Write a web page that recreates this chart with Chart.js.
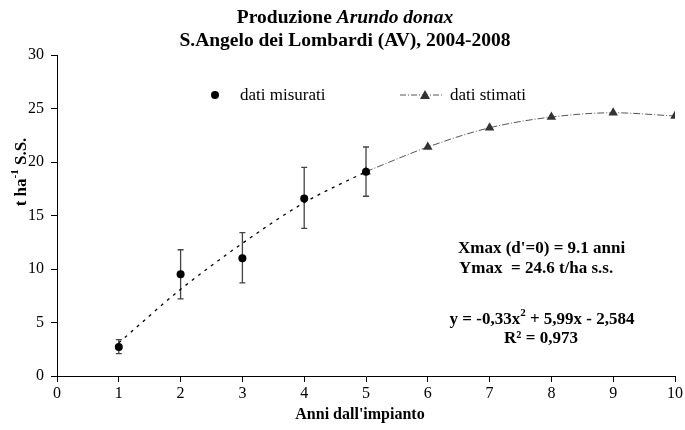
<!DOCTYPE html>
<html>
<head>
<meta charset="utf-8">
<script src="https://cdn.jsdelivr.net/npm/chart.js@4/dist/chart.umd.min.js"></script>
<style>
  html, body { margin: 0; padding: 0; background: #fff; }
  #wrap { width: 685px; height: 430px; position: relative; }
</style>
</head>
<body>
<div id="wrap"><canvas id="c" width="685" height="430"></canvas></div>
<script>
// ---- data ----
const xMeasured = [1, 2, 3, 4, 5];
const yMeasured = [2.7, 9.5, 11.0, 16.6, 19.1];
const errLow    = [2.1, 7.2, 8.7, 13.8, 16.8];
const errHigh   = [3.4, 11.8, 13.4, 19.5, 21.4];
const xTrend    = [1, 2, 3, 4, 5];
const yTrend    = [3.1, 8.1, 12.4, 16.2, 19.1];
const xEstimated = [5, 6, 7, 8, 9, 10];
const yEstimated = [19.1, 21.4, 23.2, 24.2, 24.6, 24.3];
const titleLine1a = "Produzione ";
const titleLine1b = "Arundo donax";
const titleLine2 = "S.Angelo dei Lombardi (AV), 2004-2008";
const legendLabels = ["dati misurati", "dati stimati"];
const xAxisTitle = "Anni dall'impianto";
const annotations = ["Xmax (d'=0) = 9.1 anni", "Ymax  = 24.6 t/ha s.s."];
const eqText = ["y = -0,33x", "2", " + 5,99x - 2,584"];
const r2Text = "R² = 0,973";

const SERIF = '"Liberation Serif", "Times New Roman", serif';

const toPts = (xs, ys) => xs.map((x, i) => ({ x: x, y: ys[i] }));

const extras = {
  id: 'extras',
  beforeDatasetsDraw(chart) {
    const ctx = chart.ctx, xs = chart.scales.x, ys = chart.scales.y;
    ctx.save();
    ctx.strokeStyle = '#444';
    ctx.lineWidth = 1.3;
    xMeasured.forEach((x, i) => {
      const px = xs.getPixelForValue(x);
      const top = ys.getPixelForValue(errHigh[i]);
      const bot = ys.getPixelForValue(errLow[i]);
      ctx.beginPath();
      ctx.moveTo(px, top); ctx.lineTo(px, bot);
      ctx.moveTo(px - 3, top); ctx.lineTo(px + 3, top);
      ctx.moveTo(px - 3, bot); ctx.lineTo(px + 3, bot);
      ctx.stroke();
    });
    ctx.restore();
  },
  afterDraw(chart) {
    const ctx = chart.ctx;
    ctx.save();
    ctx.fillStyle = '#000';
    ctx.textBaseline = 'middle';
    // title
    const cx = 345;
    const TF = 19.5;
    ctx.font = 'bold ' + TF + 'px ' + SERIF;
    const wa = ctx.measureText(titleLine1a).width;
    ctx.font = 'italic bold ' + TF + 'px ' + SERIF;
    const wb = ctx.measureText(titleLine1b).width;
    let sx = cx - (wa + wb) / 2;
    ctx.textAlign = 'left';
    ctx.font = 'bold ' + TF + 'px ' + SERIF;
    ctx.fillText(titleLine1a, sx, 18);
    ctx.font = 'italic bold ' + TF + 'px ' + SERIF;
    ctx.fillText(titleLine1b, sx + wa, 18);
    ctx.font = 'bold ' + TF + 'px ' + SERIF;
    ctx.textAlign = 'center';
    ctx.fillText(titleLine2, cx, 41);

    // legend
    const ly = 95;
    ctx.beginPath();
    ctx.arc(215, ly, 4, 0, Math.PI * 2);
    ctx.fill();
    ctx.font = '17px ' + SERIF;
    ctx.textAlign = 'left';
    ctx.fillText(legendLabels[0], 240, ly + 1);
    ctx.strokeStyle = '#555';
    ctx.lineWidth = 1;
    ctx.setLineDash([6, 2, 1, 2]);
    ctx.beginPath();
    ctx.moveTo(400, ly); ctx.lineTo(444, ly);
    ctx.stroke();
    ctx.setLineDash([]);
    ctx.fillStyle = '#333';
    ctx.beginPath();
    ctx.moveTo(425, ly - 5); ctx.lineTo(430, ly + 4); ctx.lineTo(420, ly + 4);
    ctx.closePath(); ctx.fill();
    ctx.fillStyle = '#000';
    ctx.fillText(legendLabels[1], 450, ly + 1);

    // annotations
    const AF = 17;
    ctx.font = 'bold ' + AF + 'px ' + SERIF;
    ctx.textAlign = 'left';
    ctx.fillText(annotations[0], 458, 249);
    ctx.fillText(annotations[1], 459, 269);
    // equation with superscript
    const w1 = ctx.measureText(eqText[0]).width;
    const w3 = ctx.measureText(eqText[2]).width;
    ctx.font = 'bold 11px ' + SERIF;
    const w2 = ctx.measureText(eqText[1]).width;
    let ex = 542 - (w1 + w2 + w3) / 2;
    ctx.font = 'bold ' + AF + 'px ' + SERIF;
    ctx.fillText(eqText[0], ex, 320);
    ctx.font = 'bold 11px ' + SERIF;
    ctx.fillText(eqText[1], ex + w1, 313);
    ctx.font = 'bold ' + AF + 'px ' + SERIF;
    ctx.fillText(eqText[2], ex + w1 + w2, 320);
    ctx.textAlign = 'center';
    ctx.fillText(r2Text, 541, 339);

    // x axis title
    ctx.font = 'bold 16px ' + SERIF;
    ctx.textAlign = 'center';
    ctx.fillText(xAxisTitle, 360, 415);

    // y axis title (rotated, with superscript)
    ctx.translate(22, 172);
    ctx.rotate(-Math.PI / 2);
    ctx.font = 'bold 17px ' + SERIF;
    const pa = 't ha', pb = '-1', pc = ' S.S.';
    const wpa = ctx.measureText(pa).width, wpc = ctx.measureText(pc).width;
    ctx.font = 'bold 11px ' + SERIF;
    const wpb = ctx.measureText(pb).width;
    let yx = -(wpa + wpb + wpc) / 2;
    ctx.textAlign = 'left';
    ctx.font = 'bold 17px ' + SERIF;
    ctx.fillText(pa, yx, 0);
    ctx.font = 'bold 11px ' + SERIF;
    ctx.fillText(pb, yx + wpa, -7);
    ctx.font = 'bold 17px ' + SERIF;
    ctx.fillText(pc, yx + wpa + wpb, 0);
    ctx.restore();
  }
};

new Chart(document.getElementById('c'), {
  type: 'scatter',
  data: {
    datasets: [
      {
        label: 'trend misurati',
        data: toPts(xTrend, yTrend),
        showLine: true,
        borderColor: '#000',
        borderWidth: 1.3,
        borderDash: [3, 5],
        pointRadius: 0,
        cubicInterpolationMode: 'monotone',
        fill: false
      },
      {
        label: legendLabels[0],
        data: toPts(xMeasured, yMeasured),
        showLine: false,
        pointStyle: 'circle',
        pointRadius: 4,
        backgroundColor: '#000',
        borderColor: '#000',
        borderWidth: 0
      },
      {
        label: legendLabels[1],
        data: toPts(xEstimated, yEstimated),
        showLine: true,
        borderColor: '#555',
        borderWidth: 1,
        borderDash: [7, 2, 1, 2],
        cubicInterpolationMode: 'monotone',
        pointStyle: 'triangle',
        pointRadius: 5.5,
        backgroundColor: '#333',
        pointBorderColor: '#333',
        pointBorderWidth: 0,
        fill: false
      }
    ]
  },
  options: {
    responsive: false,
    animation: false,
    devicePixelRatio: 1,
    layout: { padding: { top: 55, right: 8, left: 0, bottom: 0 } },
    plugins: { legend: { display: false }, title: { display: false }, tooltip: { enabled: false } },
    scales: {
      x: {
        type: 'linear', min: 0, max: 10,
        afterFit: (s) => { s.height = 54; },
        border: { color: '#000', width: 1 },
        grid: { drawOnChartArea: false, drawTicks: true, tickLength: 6, color: '#000' },
        ticks: { stepSize: 1, color: '#000', padding: 2, maxRotation: 0, font: { family: SERIF, size: 16 } }
      },
      y: {
        type: 'linear', min: 0, max: 30,
        afterFit: (s) => { s.width = 57; },
        border: { color: '#000', width: 1 },
        grid: { drawOnChartArea: false, drawTicks: true, tickLength: 6, color: '#000' },
        ticks: { stepSize: 5, color: '#000', padding: 7, font: { family: SERIF, size: 16 } }
      }
    }
  },
  plugins: [extras]
});
</script>
</body>
</html>
